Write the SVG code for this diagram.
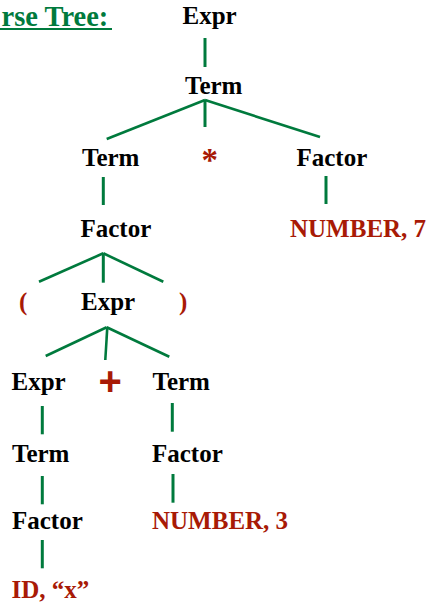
<svg xmlns="http://www.w3.org/2000/svg" width="429" height="606" viewBox="0 0 429 606">
<style>
.n{font-family:"Liberation Serif","Times New Roman",serif;font-weight:bold;font-size:25px;fill:#000}
.t{font-family:"Liberation Serif","Times New Roman",serif;font-weight:bold;font-size:25px;fill:#a81a06}
.title{font-family:"Liberation Serif","Times New Roman",serif;font-weight:bold;font-size:28.5px;fill:#007a3d}
.e{stroke:#007a3d;stroke-width:2.6;fill:none}
.v{stroke:#007a3d;stroke-width:3;fill:none}
</style>
<rect width="429" height="606" fill="#fff"/>
<g id="title">
<text class="title" x="1.5" y="25.5">rse Tree:</text>
<line x1="0" y1="29" x2="112" y2="29" stroke="#007a3d" stroke-width="2"/>
</g>
<g id="connectors">
<line class="v" x1="205" y1="38" x2="205" y2="67"/>
<line class="e" x1="205" y1="100" x2="106.7" y2="139"/>
<line class="v" x1="205" y1="100" x2="205" y2="127"/>
<line class="e" x1="205" y1="100" x2="320" y2="137"/>
<line class="v" x1="103.3" y1="177" x2="103.3" y2="205"/>
<line class="v" x1="326" y1="176" x2="326" y2="204"/>
<line class="e" x1="103.3" y1="253.3" x2="39" y2="281.7"/>
<line class="v" x1="103.3" y1="253.3" x2="103.3" y2="282.7"/>
<line class="e" x1="103.3" y1="253.3" x2="163.3" y2="281.7"/>
<line class="e" x1="106.7" y1="327.3" x2="45.7" y2="356"/>
<line class="e" x1="107.3" y1="327.3" x2="105.3" y2="360"/>
<line class="e" x1="106.7" y1="327.3" x2="169.3" y2="356.7"/>
<line class="v" x1="42.3" y1="406" x2="42.3" y2="434.3"/>
<line class="v" x1="172.3" y1="403" x2="172.3" y2="431.7"/>
<line class="v" x1="42.3" y1="476" x2="42.3" y2="504.3"/>
<line class="v" x1="173" y1="474" x2="173" y2="502.7"/>
<line class="v" x1="42.3" y1="540" x2="42.3" y2="568.3"/>
</g>
<g id="n_expr_root"><text class="n" x="182.5" y="24">Expr</text></g>
<g id="n_term_root"><text class="n" x="185" y="94">Term</text></g>
<g id="n_term_l"><text class="n" x="82" y="166">Term</text></g>
<g id="n_star"><text class="t" x="209.7" y="171" text-anchor="middle" style="font-size:33px">*</text></g>
<g id="n_factor_r"><text class="n" x="296.5" y="166">Factor</text></g>
<g id="n_factor_l"><text class="n" x="80.5" y="237">Factor</text></g>
<g id="n_number7"><text class="t" x="290" y="237">NUMBER, 7</text></g>
<g id="n_lparen"><text class="t" x="19" y="310">(</text></g>
<g id="n_expr_mid"><text class="n" x="81" y="310">Expr</text></g>
<g id="n_rparen"><text class="t" x="179" y="310">)</text></g>
<g id="n_expr_low"><text class="n" x="11.5" y="390">Expr</text></g>
<g id="n_plus"><text x="110.3" y="395" text-anchor="middle" style="font-family:'Liberation Sans',Arial,sans-serif;font-weight:bold;font-size:40px;fill:#a81a06">+</text></g>
<g id="n_term_low"><text class="n" x="152.5" y="390">Term</text></g>
<g id="n_term_ll"><text class="n" x="12" y="461.5">Term</text></g>
<g id="n_factor_lr"><text class="n" x="152" y="461.5">Factor</text></g>
<g id="n_factor_ll"><text class="n" x="12" y="529.3">Factor</text></g>
<g id="n_number3"><text class="t" x="152" y="529.3">NUMBER, 3</text></g>
<g id="n_id"><text class="t" x="11.5" y="598.3">ID, “x”</text></g>
</svg>
